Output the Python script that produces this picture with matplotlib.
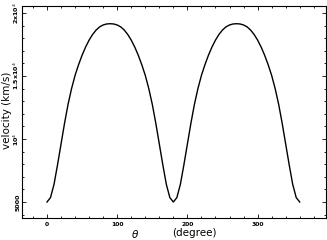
import matplotlib
matplotlib.use("Agg")
import matplotlib.pyplot as plt
from matplotlib.ticker import MultipleLocator, FixedLocator

theta = list(range(0, 365, 5))
velocity = [
    5000, 5350, 6400, 7950, 9600, 11250, 12750, 14000, 15050, 15900,
    16650, 17300, 17850, 18300, 18650, 18900, 19050, 19130, 19150,
    19130, 19050, 18900, 18650, 18300, 17850, 17300, 16650, 15900,
    15050, 14000, 12750, 11250, 9600, 7950, 6400, 5350, 5000,
    5350, 6400, 7950, 9600, 11250, 12750, 14000, 15050, 15900,
    16650, 17300, 17850, 18300, 18650, 18900, 19050, 19130, 19150,
    19130, 19050, 18900, 18650, 18300, 17850, 17300, 16650, 15900,
    15050, 14000, 12750, 11250, 9600, 7950, 6400, 5350, 5000,
]
xticks = [0, 100, 200, 300]
xticklabels = ["0", "100", "200", "300"]
yticks = [5000, 10000, 15000, 20000]
yticklabels = ["5000", r"10$^{4}$", r"1.5x10$^{4}$", r"2x10$^{4}$"]

W, H = 327, 240
fig = plt.figure(figsize=(W / 100, H / 100), dpi=100)
left, right, top, bottom = 22, 325.7, 5.7, 218
ax = fig.add_axes([left / W, 1 - bottom / H, (right - left) / W, (bottom - top) / H])

ax.plot(theta, velocity, color="black", lw=1.0)
ax.set_xlim(-35.6, 397)
ax.set_ylim(3730, 20580)

ax.xaxis.set_major_locator(FixedLocator(xticks))
ax.set_xticklabels(xticklabels, fontsize=4.3, fontweight="bold")
ax.xaxis.set_minor_locator(MultipleLocator(20))
ax.yaxis.set_major_locator(FixedLocator(yticks))
ax.set_yticklabels(yticklabels, fontsize=4.6, fontweight="bold", rotation=90, va="center")
ax.yaxis.set_minor_locator(MultipleLocator(1000))

ax.tick_params(which="both", direction="in", top=True, right=True, width=0.6, color="black")
ax.tick_params(which="major", length=3.0)
ax.tick_params(which="minor", length=1.5)
ax.tick_params(axis="x", which="major", pad=2.8)
ax.tick_params(axis="y", which="major", pad=1.0)
for s in ax.spines.values():
    s.set_linewidth(0.8)

fig.text(135 / W, 1 - 234 / H, r"$\theta$", fontsize=7.5, ha="center", va="center")
fig.text(194.5 / W, 1 - 233.5 / H, "(degree)", fontsize=7.5, ha="center", va="center")
fig.text(7 / W, 1 - 110 / H, "velocity (km/s)", fontsize=7.5, rotation=90, ha="center", va="center")

fig.savefig("out.png", dpi=100)
